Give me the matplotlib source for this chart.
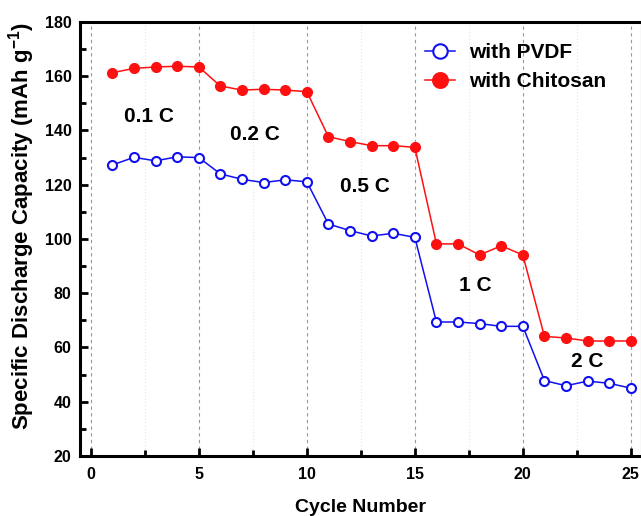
import numpy as np
from matplotlib import pyplot as plt
from matplotlib.ticker import MultipleLocator

plt.rcParams['font.family'] = 'Liberation Sans'
plt.rcParams['font.weight'] = 'bold'
plt.rcParams['mathtext.fontset'] = 'custom'
plt.rcParams['mathtext.bf'] = 'Liberation Sans:bold'
plt.rcParams['mathtext.rm'] = 'Liberation Sans:bold'

cycles = list(range(1, 26))
pvdf = [127.3, 130.1, 128.8, 130.3, 130.0, 124.0, 122.0, 120.8, 121.8, 121.1,
        105.5, 103.1, 101.1, 102.1, 100.6, 69.4, 69.4, 68.8, 67.8, 67.8,
        47.8, 45.9, 47.6, 46.8, 45.0]
chitosan = [161.3, 162.9, 163.4, 163.7, 163.4, 156.4, 154.9, 155.2, 154.9, 154.3,
            137.7, 135.9, 134.4, 134.4, 133.8, 98.2, 98.2, 94.1, 97.5, 94.1,
            64.1, 63.5, 62.4, 62.4, 62.4]
rate_labels = ['0.1 C', '0.2 C', '0.5 C', '1 C', '2 C']
rate_x = [2.7, 7.6, 12.7, 17.8, 22.96]
rate_y = [145, 138.7, 119.5, 83, 54.7]

fig = plt.figure(figsize=(6.41, 5.16), dpi=100)
ax = fig.add_axes([0.1248, 0.1163, 0.8762, 0.8411])

ax.plot(cycles, pvdf, '-o', color='#1010f0', mfc='white', mec='#1010f0',
        ms=6.5, mew=1.5, lw=1.1, label='with PVDF')
ax.plot(cycles, chitosan, '-o', color='#ff1010', mfc='#ff1010', mec='#ff1010',
        ms=7, lw=1.1, label='with Chitosan')

for lab, x, y in zip(rate_labels, rate_x, rate_y):
    ax.text(x, y, lab, ha='center', va='center', fontsize=15, fontweight='bold')

ax.set_xlim(-0.5, 25.5)
ax.set_ylim(20, 180)
ax.xaxis.set_major_locator(MultipleLocator(5))
ax.xaxis.set_minor_locator(MultipleLocator(2.5))
ax.yaxis.set_major_locator(MultipleLocator(20))
ax.yaxis.set_minor_locator(MultipleLocator(10))
ax.tick_params(which='major', direction='in', length=6, width=2, labelsize=11.5)
ax.tick_params(which='minor', direction='in', length=4, width=2)
ax.tick_params(axis='y', which='major', pad=6)
ax.tick_params(axis='x', which='major', pad=8)
ax.tick_params(axis='both', which='both', top=False, right=False)
ax.grid(axis='x', which='major', color='#999999', ls=(0, (3, 3)), lw=0.8)
ax.grid(axis='x', which='minor', color='#e6e6e6', ls=(0, (1, 2)), lw=0.8)
for s in ax.spines.values():
    s.set_linewidth(2.2)

ax.set_xlabel('Cycle Number', fontsize=14, fontweight='bold', labelpad=12)
ax.set_ylabel(r'Specific Discharge Capacity (mAh g$^{\mathbf{-1}}$)',
              fontsize=16, fontweight='bold')
ax.yaxis.set_label_coords(-0.077, 0.53)

ax.legend(loc='upper left', bbox_to_anchor=(0.614, 0.952), frameon=False,
          fontsize=15, markerscale=1.6, handlelength=1.45, handletextpad=0.67,
          labelspacing=0.5, borderpad=0, borderaxespad=0)

fig.savefig('out.png', dpi=100)
